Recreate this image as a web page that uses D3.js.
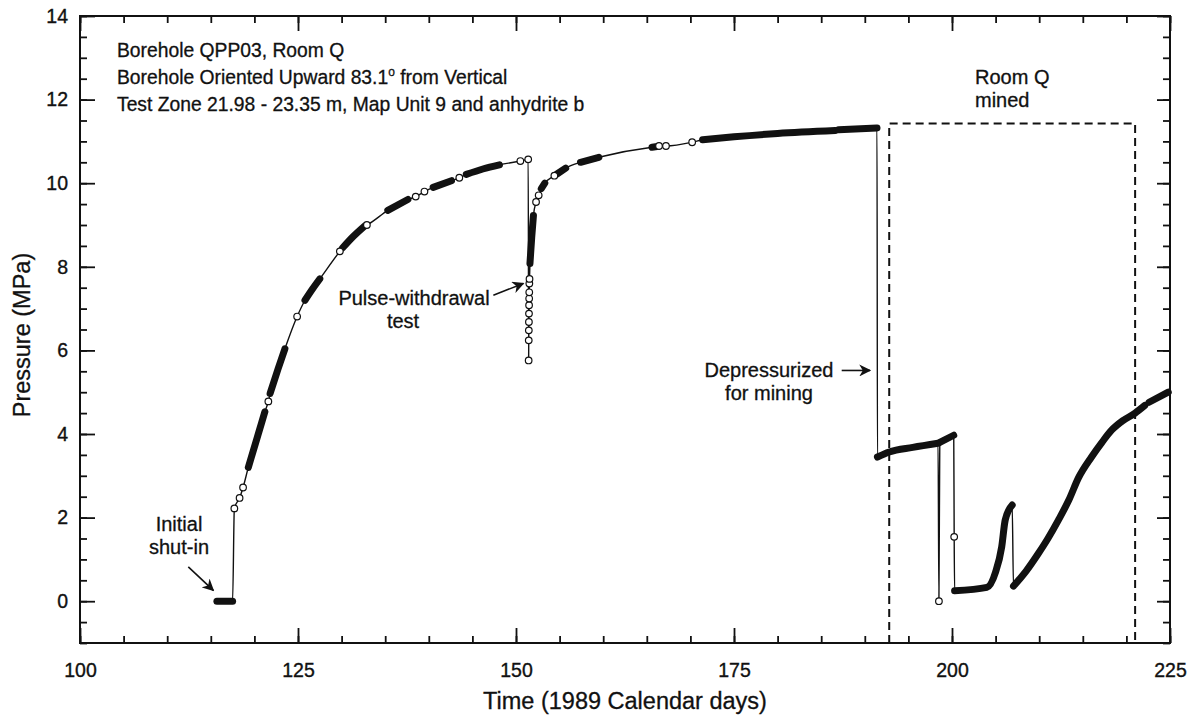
<!doctype html>
<html>
<head>
<meta charset="utf-8">
<style>
    body { margin: 0; background: #fff; }
    svg { font-family: "Liberation Sans", Arial, sans-serif; }
    .axis text { font-size: 19.5px; fill: #111; stroke: #111; stroke-width: 0.35; }
    .axis line { stroke: #111; stroke-width: 1.8; }
    .axis path { display: none; }
    .note { font-size: 20px; fill: #111; stroke: #111; stroke-width: 0.3; }
    .head { font-size: 19.3px; fill: #111; stroke: #111; stroke-width: 0.3; }
    .title { font-size: 23.5px; fill: #111; stroke: #111; stroke-width: 0.3; }
</style>
<script src="https://cdn.jsdelivr.net/npm/d3@7"></script>
</head>
<body>
<svg width="1196" height="727"></svg>
<script>

// readings: time (1989 calendar day), pressure (MPa)
var days = [115.7, 117.5, 117.7, 118.3, 118.7, 119.3, 120.3, 121.2, 121.6, 121.8,
            122.7, 123.5, 124.9, 125.8, 126.7, 127.5, 129.8, 130.1, 131.3, 132.6,
            132.9, 135.3, 137.6, 138.5, 139.5, 140.5, 142.6, 143.5, 144.3, 146.2,
            148.1, 150.5, 151.4, 151.45, 151.46, 151.47, 151.48, 151.49, 151.50, 151.51,
            151.52, 151.53, 151.55, 151.6, 151.8, 152.0, 152.3, 152.6, 152.9, 153.3,
            154.4, 154.7, 155.7, 157.4, 159.5, 165.6, 166.0, 166.4, 167.2, 170.2,
            171.4, 175.0, 180.0, 186.6, 187.0, 191.4, 191.45, 192.8, 195.5, 198.4,
            198.5, 198.6, 200.2, 200.25, 200.3, 204.0, 205.0, 205.7, 206.1, 206.9,
            207.05, 208.5, 209.9, 211.0, 212.2, 213.4, 214.5, 216.0, 217.2, 218.3,
            219.6, 221.0, 222.1, 222.6, 224.8];
var pressure = [0.0, 0.0, 2.22, 2.47, 2.72, 3.20, 3.90, 4.53, 4.78, 4.97,
                5.55, 6.04, 6.81, 7.20, 7.48, 7.71, 8.37, 8.45, 8.72, 8.97,
                9.00, 9.35, 9.61, 9.68, 9.80, 9.90, 10.06, 10.13, 10.21, 10.34,
                10.44, 10.53, 10.57, 5.76, 6.24, 6.48, 6.68, 6.88, 7.08, 7.24,
                7.39, 7.60, 7.71, 8.08, 8.70, 9.23, 9.55, 9.71, 9.87, 10.00,
                10.18, 10.22, 10.36, 10.50, 10.62, 10.86, 10.87, 10.89, 10.89, 10.98,
                11.04, 11.11, 11.19, 11.26, 11.28, 11.32, 3.45, 3.57, 3.68, 3.78,
                0.0, 3.80, 3.97, 1.54, 0.25, 0.33, 0.70, 1.30, 1.94, 2.30,
                0.36, 0.72, 1.14, 1.50, 1.94, 2.42, 2.95, 3.45, 3.80, 4.09,
                4.32, 4.50, 4.68, 4.76, 5.00];
// 0 = isolated reading, n = member of n-th dense run of readings
var run = [1, 1, 0, 0, 0, 2, 2, 2, 0, 3,
           3, 3, 0, 4, 4, 4, 0, 5, 5, 5,
           0, 6, 6, 0, 0, 7, 7, 0, 8, 8,
           8, 0, 0, 0, 0, 0, 0, 0, 0, 0,
           0, 0, 0, 9, 9, 9, 0, 0, 10, 10,
           0, 11, 11, 12, 12, 13, 13, 0, 0, 0,
           14, 14, 14, 14, 15, 15, 16, 16, 16, 16,
           0, 17, 17, 0, 18, 18, 18, 18, 18, 18,
           19, 19, 19, 19, 19, 19, 19, 19, 19, 19,
           19, 19, 19, 20, 20];

// Room Q mining period: start day, end day, box top (MPa)
var mined = [192.8, 221.0, 11.43];

var xTicks = [100, 125, 150, 175, 200, 225];
var xMinor = d3.range(100, 226, 5);
var yTicks = [0, 2, 4, 6, 8, 10, 12, 14];
var yMinor = d3.range(-1, 14.01, 0.5);

var data = days.map(function(d, i) { return {t: d, p: pressure[i], run: run[i]}; });

var svg = d3.select("svg"),
    x0 = 80, x1 = 1170, y0 = 643, y1 = 16;

var x = d3.scaleLinear().domain([100, 225]).range([x0, x1]),
    y = d3.scaleLinear().domain([-1, 14]).range([y0, y1]);

svg.append("defs").append("marker")
    .attr("id", "head")
    .attr("viewBox", "0 0 10 10")
    .attr("refX", 9).attr("refY", 5)
    .attr("markerWidth", 12).attr("markerHeight", 12)
    .attr("markerUnits", "userSpaceOnUse")
    .attr("orient", "auto")
    .append("path")
    .attr("d", "M0,0 L10,5 L0,10 L3,5 Z")
    .attr("fill", "#111");

// axes: minor ticks, then major ticks with labels, all pointing inward
svg.append("g").attr("class", "axis")
    .attr("transform", "translate(0," + y0 + ")")
    .call(d3.axisBottom(x).tickValues(xMinor).tickSize(-7).tickFormat(""));
svg.append("g").attr("class", "axis")
    .attr("transform", "translate(0," + y0 + ")")
    .call(d3.axisBottom(x).tickValues(xTicks).tickSize(-15).tickPadding(20));
svg.append("g").attr("class", "axis")
    .attr("transform", "translate(0," + y1 + ")")
    .call(d3.axisTop(x).tickValues(xMinor).tickSize(-7).tickFormat(""));
svg.append("g").attr("class", "axis")
    .attr("transform", "translate(0," + y1 + ")")
    .call(d3.axisTop(x).tickValues(xTicks).tickSize(-15).tickFormat(""));

svg.append("g").attr("class", "axis")
    .attr("transform", "translate(" + x0 + ",0)")
    .call(d3.axisLeft(y).tickValues(yMinor).tickSize(-7).tickFormat(""));
svg.append("g").attr("class", "axis")
    .attr("transform", "translate(" + x0 + ",0)")
    .call(d3.axisLeft(y).tickValues(yTicks).tickSize(-15).tickPadding(12));
svg.append("g").attr("class", "axis")
    .attr("transform", "translate(" + x1 + ",0)")
    .call(d3.axisRight(y).tickValues(yMinor).tickSize(-7).tickFormat(""));
svg.append("g").attr("class", "axis")
    .attr("transform", "translate(" + x1 + ",0)")
    .call(d3.axisRight(y).tickValues(yTicks).tickSize(-13).tickFormat(""));

svg.append("rect")
    .attr("x", x0).attr("y", y1)
    .attr("width", x1 - x0).attr("height", y0 - y1)
    .attr("fill", "none").attr("stroke", "#111").attr("stroke-width", 2);

// mining box
svg.append("path")
    .attr("d", "M" + x(mined[0]) + "," + y0 + "V" + y(mined[2]) +
               "H" + x(mined[1]) + "V" + y0)
    .attr("fill", "none").attr("stroke", "#111")
    .attr("stroke-width", 2).attr("stroke-dasharray", "8,5");

var line = d3.line()
    .curve(d3.curveMonotoneX)
    .x(function(d) { return x(d.t); })
    .y(function(d) { return y(d.p); });

svg.append("path")
    .datum(data)
    .attr("d", line)
    .attr("fill", "none").attr("stroke", "#111").attr("stroke-width", 1.4);

// dense runs of readings
var runs = d3.groups(data.filter(function(d) { return d.run > 0; }), function(d) { return d.run; });
svg.selectAll(".dense")
    .data(runs)
    .enter().append("path")
    .attr("class", "dense")
    .attr("d", function(g) { return line(g[1]); })
    .attr("fill", "none").attr("stroke", "#111")
    .attr("stroke-width", 7)
    .attr("stroke-linecap", "round").attr("stroke-linejoin", "round");

svg.selectAll(".pt")
    .data(data.filter(function(d) { return d.run === 0; }))
    .enter().append("circle")
    .attr("class", "pt")
    .attr("cx", function(d) { return x(d.t); })
    .attr("cy", function(d) { return y(d.p); })
    .attr("r", 3.3)
    .attr("fill", "#fff").attr("stroke", "#111").attr("stroke-width", 1.2);

// axis titles
svg.append("text").attr("class", "title")
    .attr("x", 625).attr("y", 709)
    .attr("text-anchor", "middle")
    .text("Time (1989 Calendar days)");
svg.append("text").attr("class", "title")
    .attr("transform", "translate(30,335) rotate(-90)")
    .attr("text-anchor", "middle")
    .text("Pressure (MPa)");

// header notes
svg.append("text").attr("class", "head").attr("x", 117).attr("y", 57)
    .text("Borehole QPP03, Room Q");
var t2 = svg.append("text").attr("class", "head").attr("x", 117).attr("y", 84);
t2.append("tspan").text("Borehole Oriented Upward 83.1");
t2.append("tspan").attr("dy", -8).attr("font-size", 12).text("o");
t2.append("tspan").attr("dy", 8).text(" from Vertical");
svg.append("text").attr("class", "head").attr("x", 117).attr("y", 111)
    .text("Test Zone 21.98 - 23.35 m, Map Unit 9 and anhydrite b");

// annotations
function note(lines, cx, by, anchor) {
    lines.forEach(function(s, i) {
        svg.append("text").attr("class", "note")
            .attr("x", cx).attr("y", by + i * 23)
            .attr("text-anchor", anchor || "middle")
            .text(s);
    });
}
note(["Initial", "shut-in"], 179, 531);
note(["Pulse-withdrawal"], 414, 305);
note(["test"], 403, 328);
note(["Depressurized", "for mining"], 769, 377);
note(["Room Q", "mined"], 975, 84, "start");

function arrow(t0, p0, t1, p1) {
    svg.append("line")
        .attr("x1", x(t0)).attr("y1", y(p0))
        .attr("x2", x(t1)).attr("y2", y(p1))
        .attr("stroke", "#111").attr("stroke-width", 1.6)
        .attr("marker-end", "url(#head)");
}
arrow(112.42, 0.82, 115.29, 0.26);
arrow(147.4, 7.32, 150.84, 7.6);
arrow(187.35, 5.52, 190.6, 5.52);

</script>
</body>
</html>
